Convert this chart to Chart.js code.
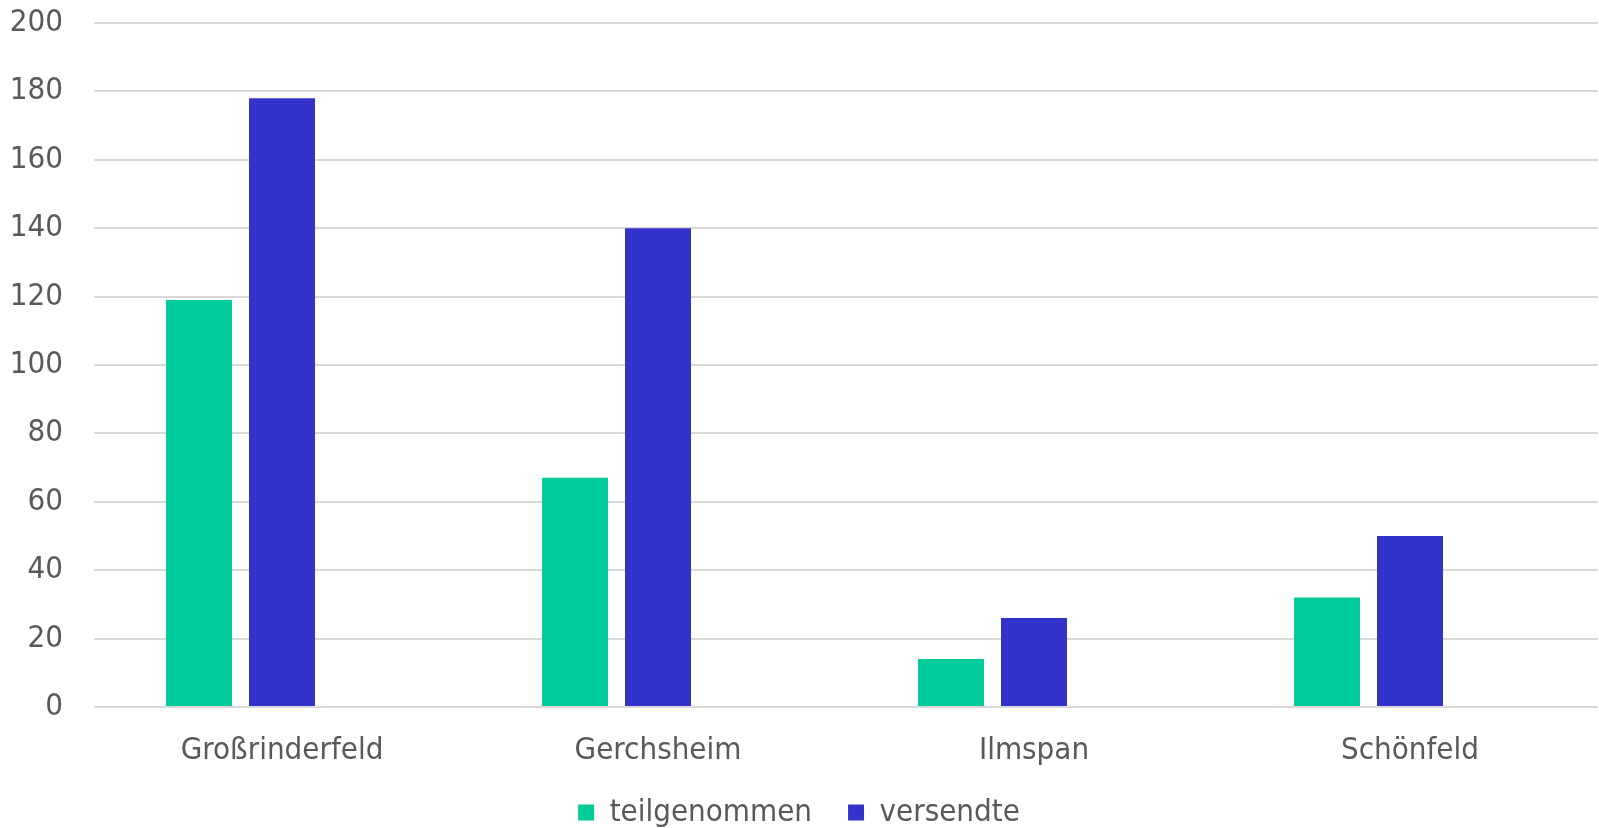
<!DOCTYPE html>
<html>
<head>
<meta charset="utf-8">
<script src="https://cdn.jsdelivr.net/npm/chart.js@4/dist/chart.umd.min.js"></script>
<style>
  html, body { margin: 0; padding: 0; background: #fff; }
  #wrap { width: 1599px; height: 828px; position: relative; }
</style>
</head>
<body>
<div id="wrap"><canvas id="chart"></canvas></div>
<script>
// Orte und Rücklauf
const orte = ['Großrinderfeld', 'Gerchsheim', 'Ilmspan', 'Schönfeld'];
const teilgenommen = [119, 67, 14, 32];
const versendte = [178, 140, 26, 50];
// leere dritte Reihe, hält den Platz rechts neben den Balken frei
const leer = [null, null, null, null];
const yTicks = [0, 20, 40, 60, 80, 100, 120, 140, 160, 180, 200];

const schrift = { family: '"DejaVu Sans Condensed", "DejaVu Sans", sans-serif', size: 31 };
const textFarbe = '#595959';

new Chart(document.getElementById('chart'), {
    type: 'bar',
    data: {
        labels: orte,
        datasets: [
            { label: 'teilgenommen', data: teilgenommen, backgroundColor: '#00CC99' },
            { label: 'versendte', data: versendte, backgroundColor: '#3333CC' },
            { label: '', data: leer, backgroundColor: 'rgba(0,0,0,0)' }
        ]
    },
    options: {
        responsive: true,
        maintainAspectRatio: false,
        animation: false,
        categoryPercentage: 0.662,
        barPercentage: 0.795,
        layout: { padding: { top: 23, right: 1, left: 0, bottom: -10 } },
        plugins: {
            tooltip: { enabled: false },
            legend: {
                position: 'bottom',
                labels: {
                    filter: item => item.text !== '',
                    boxWidth: 16,
                    boxHeight: 16,
                    padding: 36,
                    color: textFarbe,
                    font: schrift
                }
            }
        },
        scales: {
            x: {
                grid: { display: false },
                border: { display: false },
                ticks: { color: textFarbe, font: schrift, padding: 17 },
                afterFit: s => {
                    s.height = 54;
                    // Beschriftung nicht auf die schmale Achsenhöhe beschneiden
                    s._computeLabelArea = () => undefined;
                }
            },
            y: {
                min: 0,
                max: 200,
                afterBuildTicks: s => { s.ticks = yTicks.map(v => ({ value: v })); },
                grid: { color: '#D9D9D9', lineWidth: 2, drawTicks: false },
                border: { display: false },
                ticks: { color: textFarbe, font: schrift, padding: 31 },
                afterFit: s => {
                    s.width = 94;
                    s.paddingTop = 0;
                    s.paddingBottom = 0;
                }
            }
        }
    }
});
</script>
</body>
</html>
